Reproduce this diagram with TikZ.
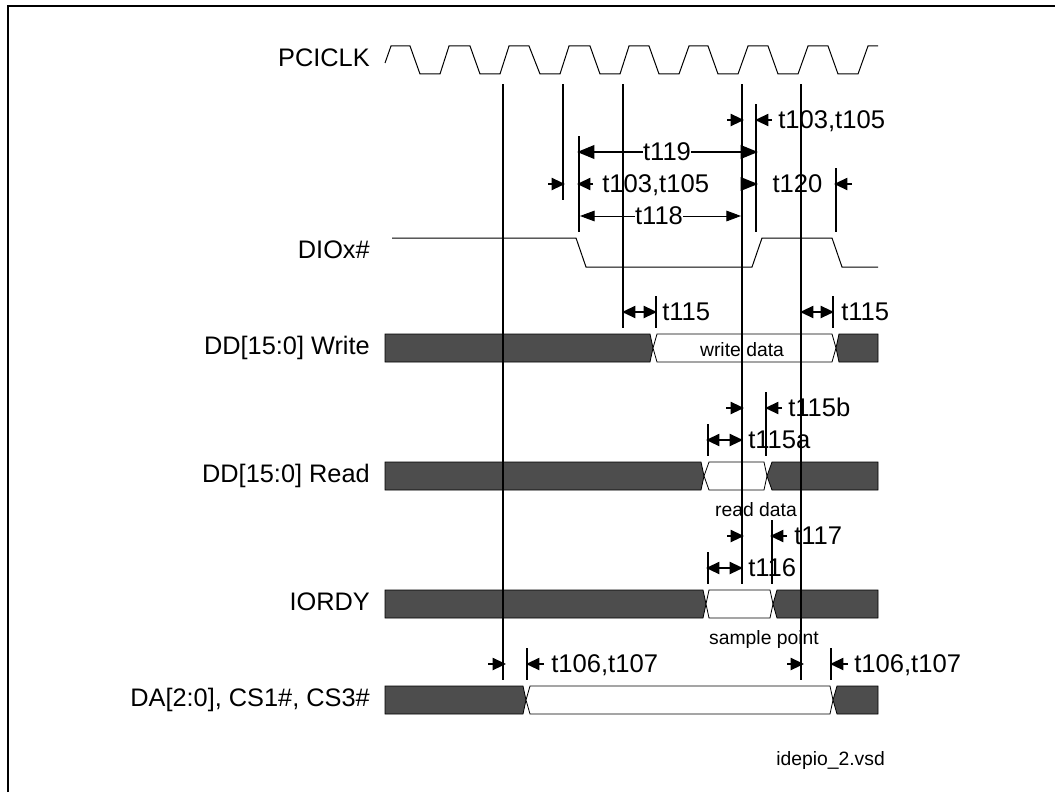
\documentclass[tikz,border=0pt]{standalone}
\usepackage{fontspec}
\setmainfont{Liberation Sans}
\usetikzlibrary{arrows.meta}
\definecolor{bus}{HTML}{4D4D4D}
\tikzset{
 x=0.75pt,y=-0.75pt,
 frameline/.style={line width=1.6pt},
 wave/.style={line width=0.75pt},
 guide/.style={line width=1.4pt},
 guideheavy/.style={line width=2pt},
 tip/.style={-{Triangle[length=10pt,width=9pt]},line width=1.5pt},
 tiptwo/.style={{Triangle[length=10pt,width=9pt]}-{Triangle[length=10pt,width=9pt]},line width=1.5pt},
 spanthick/.style={-{Triangle[length=13pt,width=10pt]},line width=2pt},
 spanthin/.style={-{Triangle[length=11pt,width=8pt]},line width=0.7pt},
 lab/.style={font=\fontsize{19}{22}\selectfont,inner sep=0pt,anchor=base east},
 tm/.style={font=\fontsize{19.2}{22}\selectfont,inner sep=0pt,anchor=base west},
 tc/.style={font=\fontsize{19.2}{22}\selectfont,inner sep=0pt},
 small/.style={font=\fontsize{14.5}{17}\selectfont,inner sep=0pt,anchor=base},
 busfill/.style={fill=bus,draw=black,line width=0.6pt},
 buswhite/.style={fill=white,draw=black,line width=0.6pt},
}
\begin{document}
\begin{tikzpicture}
\useasboundingbox (0,0) rectangle (1055,792);
\draw[frameline] (8,792) -- (8,6) -- (1055,6);
% Clock
\draw[wave] (385,63) -- (391,46) -- (410,46) -- (420,74) -- (440,74) -- (449,46) -- (470,46) -- (480,74) -- (500,74) -- (509,46) -- (529,46) -- (540,74) -- (560,74) -- (569,46) -- (590,46) -- (600,74) -- (620,74) -- (629,46) -- (649,46) -- (659,74) -- (679,74) -- (689,46) -- (708,46) -- (718,74) -- (738,74) -- (748,46) -- (768,46) -- (778,74) -- (798,74) -- (808,46) -- (828,46) -- (838,74) -- (858,74) -- (868,46) -- (878,46);
% DIOx#
\draw[wave] (392,238) -- (576,238) -- (586,267) -- (752,267) -- (762,238) -- (832,238) -- (842,267) -- (878,267);
% Buses
\path[busfill] (385,334) -- (650,334) -- (653,348) -- (650,362) -- (385,362) -- cycle;
\path[buswhite] (653,348) -- (657,334) -- (832,334) -- (836,348) -- (832,362) -- (657,362) -- cycle;
\path[busfill] (878,334) -- (839,334) -- (836,348) -- (839,362) -- (878,362) -- cycle;
\path[busfill] (385,462) -- (701,462) -- (704,476) -- (701,490) -- (385,490) -- cycle;
\path[buswhite] (704,476) -- (709,462) -- (764,462) -- (767,476) -- (764,490) -- (709,490) -- cycle;
\path[busfill] (878,462) -- (772,462) -- (767,476) -- (772,490) -- (878,490) -- cycle;
\path[busfill] (385,590) -- (703,590) -- (706,604) -- (703,618) -- (385,618) -- cycle;
\path[buswhite] (706,604) -- (709,590) -- (770,590) -- (773,604) -- (770,618) -- (709,618) -- cycle;
\path[busfill] (878,590) -- (777,590) -- (773,604) -- (777,618) -- (878,618) -- cycle;
\path[busfill] (385,686) -- (523,686) -- (526,700) -- (523,714) -- (385,714) -- cycle;
\path[buswhite] (526,700) -- (530,686) -- (830,686) -- (833,700) -- (830,714) -- (530,714) -- cycle;
\path[busfill] (878,686) -- (837,686) -- (833,700) -- (837,714) -- (878,714) -- cycle;
% Signal labels
\node[lab] (lpci) at (370,66) {PCICLK};
\node[lab] (ldio) at (370,258) {DIOx\#};
\node[lab] (lw) at (370,354) {DD[15:0] Write};
\node[lab] (lr) at (370,482) {DD[15:0] Read};
\node[lab] (li) at (370,610) {IORDY};
\node[lab] (lda) at (370,706) {DA[2:0], CS1\#, CS3\#};
\node[small] (wd) at (742,356) {write data};
\node[small] (rd) at (756,516) {read data};
\node[small] (sp) at (764,644) {sample point};
\node[small,anchor=base west] (fn) at (776,765) {idepio\_2.vsd};
% Long guides
\draw[guide] (503,84) -- (503,680);
\draw[guide] (563,84) -- (563,200);
\draw[guide] (623,84) -- (623,328);
\draw[guideheavy] (742,84) -- (742,584);
\draw[guideheavy] (801,84) -- (801,680);
\draw[guide] (756,104) -- (756,232);
\draw[guideheavy] (579,136) -- (579,232);
\draw[guide] (836,168) -- (836,232);
% short guides
\draw[guide] (656,296) -- (656,328);
\draw[guide] (833,296) -- (833,328);
\draw[guide] (708,424) -- (708,456);
\draw[guide] (766,392) -- (766,456);
\draw[guideheavy] (708,552) -- (708,584);
\draw[guide] (772,520) -- (772,584);
\draw[guide] (527,648) -- (527,680);
\draw[guide] (831,648) -- (831,680);
% t103 top
\draw[tip] (727,120) -- (744,120);
\draw[tip] (772,120) -- (755,120);
\node[tm] (a1) at (778,128) {t103,t105};
% t119
\node[tc] (t119) at (667,152) {t119};
\draw[spanthick] (t119) -- (577,152);
\draw[spanthick] (t119) -- (758,152);
% t103 second
\draw[tip] (548,184) -- (565,184);
\draw[tip] (593,184) -- (577,184);
\node[tm] (a2) at (602,192) {t103,t105};
% t120
\draw[spanthick,line width=1.5pt] (741,184) -- (758,184);
\node[tc] (t120) at (797.5,184) {t120};
\draw[tip] (852,184) -- (834,184);
% t118
\node[tc] (t118) at (659,216) {t118};
\draw[spanthin] (t118) -- (580,216);
\draw[spanthin] (t118) -- (741,216);
% t115
\draw[tiptwo] (622,312) -- (657,312);
\node[tm] (b1) at (662,320) {t115};
\draw[tiptwo] (800,312) -- (834,312);
\node[tm] (b2) at (841,320) {t115};
% t115b / a
\draw[tip] (726,408) -- (744,408);
\draw[tip] (782,408) -- (765,408);
\node[tm] (c1) at (788,416) {t115b};
\draw[tiptwo] (706,440) -- (743,440);
\node[tm] (c2) at (748,448) {t115a};
% t117 / t116
\draw[tip] (727,536) -- (744,536);
\draw[tip] (787,536) -- (770,536);
\node[tm] (d1) at (794,544) {t117};
\draw[tiptwo] (706,568) -- (743,568);
\node[tm] (d2) at (748,576) {t116};
% t106
\draw[tip] (488,664) -- (506,664);
\draw[tip] (544,664) -- (526,664);
\node[tm] (e1) at (551,672) {t106,t107};
\draw[tip] (787,664) -- (804,664);
\draw[tip] (848,664) -- (830,664);
\node[tm] (e2) at (854,672) {t106,t107};
\end{tikzpicture}
\end{document}
